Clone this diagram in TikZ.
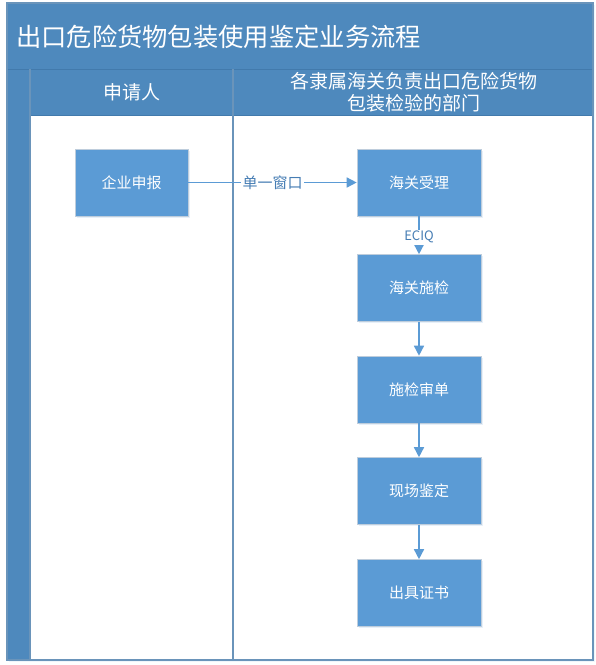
\documentclass[tikz,border=0pt]{standalone}
\usepackage{fontspec}
\setmainfont{Noto Sans CJK SC}
\usetikzlibrary{arrows.meta,shadows}
\definecolor{titleblue}{RGB}{78,137,189}
\definecolor{lineblue}{RGB}{66,122,172}
\definecolor{boxblue}{RGB}{91,155,213}
\definecolor{boxedge}{RGB}{190,205,220}
\definecolor{frameline}{RGB}{106,148,186}
\definecolor{labelblue}{RGB}{70,125,180}
\begin{document}
\begin{tikzpicture}[x=1pt,y=-1pt,
  stepbox/.style={rectangle, fill=boxblue, draw=boxedge, line width=0.6pt,
    minimum width=124pt, minimum height=67pt, inner sep=0pt, text=white,
    font=\fontsize{15}{18}\selectfont,
    drop shadow={shadow xshift=1.5pt, shadow yshift=-1.5pt, fill=boxblue!20, opacity=0.7}},
  flow/.style={draw=boxblue, line width=1.5pt, -{Triangle[length=10pt,width=10pt]}},
  lbl/.style={fill=white, text=labelblue, inner sep=1.5pt},
  hdr/.style={text=white, align=center, font=\fontsize{19}{22}\selectfont}
]
\useasboundingbox (0,0) rectangle (596,665);
% frame
\fill[white, drop shadow={shadow xshift=1.5pt, shadow yshift=-2pt, fill=boxblue!15, opacity=0.6}] (7,3) rectangle (593,660);
\fill[titleblue] (7,3) rectangle (593,69);
\fill[titleblue] (7,69) rectangle (30,660);
\fill[titleblue] (30,69) rectangle (593,115);
\draw[lineblue, line width=1pt] (7,69) -- (593,69);
\draw[lineblue, line width=1pt] (30,115) -- (593,115);
\draw[frameline, line width=1.5pt] (30,69) -- (30,660);
\draw[frameline, line width=2pt] (233,69) -- (233,660);
\draw[frameline, line width=1.5pt] (7,3) rectangle (593,660);
% texts
\node[anchor=west, text=white, font=\fontsize{25.3}{28}\selectfont, inner sep=0pt] (title) at (16,37) {出口危险货物包装使用鉴定业务流程};
\node[hdr] (lane1) at (132,92) {申请人};
\node[hdr] (lane2) at (414,92) {各隶属海关负责出口危险货物\\包装检验的部门};
% steps
\node[stepbox, minimum width=113pt] (qy) at (131.5,182.5) {企业申报};
\node[stepbox] (sl) at (419,182.5) {海关受理};
\node[stepbox] (sj) at (419,288) {海关施检};
\node[stepbox] (sd) at (419,389.5) {施检审单};
\node[stepbox] (xc) at (419,491) {现场鉴定};
\node[stepbox] (zs) at (419,593) {出具证书};
% connectors
\draw[flow] (qy.east) -- node[lbl, font=\fontsize{15}{18}\selectfont] {单一窗口} (sl.west);
\draw[flow] (sl.south) -- node[lbl, font=\fontsize{13}{15}\selectfont, pos=0.55] {ECIQ} (sj.north);
\draw[flow] (sj.south) -- (sd.north);
\draw[flow] (sd.south) -- (xc.north);
\draw[flow] (xc.south) -- (zs.north);
\end{tikzpicture}
\end{document}
